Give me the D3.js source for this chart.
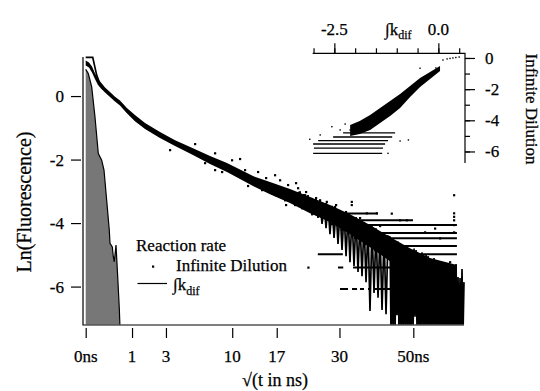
<!DOCTYPE html>
<html>
<head>
<meta charset="utf-8">
<script src="https://cdn.jsdelivr.net/npm/d3@7"></script>
<style>
  body { margin: 0; background: #fff; }
  svg { display: block; }
  svg text { font-family: "Liberation Serif", "Times New Roman", serif; fill: #000; stroke: #000; stroke-width: 0.25px; }
</style>
</head>
<body>
<div id="chart"></div>
<script>
// ---------- data (t in ns, ln of fluorescence) ----------
const xTicks = [0, 1, 3, 10, 17, 30, 50];
const xTickText = ["0ns", "1", "3", "10", "17", "30", "50ns"];
const yTicks = [0, -2, -4, -6];

// Infinite Dilution: dense core of the points (upper / lower edge)
const dilT  = [0, 0.005, 0.0185, 0.040, 0.0705, 0.109, 0.174, 0.275, 0.40, 0.548, 0.79, 1.13, 1.64, 2.57, 3.72, 5.36, 7.20, 9.30, 13.04, 15.82, 19.44, 23.44, 27.80, 32.54, 37.65, 43.14, 49.00, 55.23, 64.2];
const dilHi = [1.12, 1.06, 0.93, 0.72, 0.54, 0.43, 0.27, 0.13, -0.02, -0.14, -0.38, -0.60, -0.85, -1.13, -1.39, -1.64, -1.89, -2.11, -2.52, -2.71, -2.93, -3.18, -3.43, -3.72, -4.06, -4.44, -4.79, -5.10, -5.32];
const dilLo = [0.96, 0.90, 0.74, 0.54, 0.35, 0.24, 0.11, -0.03, -0.17, -0.30, -0.54, -0.79, -1.04, -1.32, -1.57, -1.86, -2.14, -2.39, -2.83, -3.09, -3.37, -3.69, -3.97, -4.35, -4.76, -5.20, -5.61, -6.05, -6.08];

// Infinite Dilution: single-count levels (rows of points)
const rowLevel = [-6.08, -6.08, -6.08, -6.08, -6.08, -5.40, -5.40, -4.98, -4.98, -4.72, -4.48, -4.31, -4.06, -3.91, -3.70];
const rowFrom  = [30.13, 33.04, 35.05, 37.13, 38.98, 29.66, 33.3, 25.1, 41.2, 39.5, 36.9, 34.3, 32.5, 29.4, 28.5];
const rowTo    = [32.06, 34.3, 36.09, 37.9, 66.67, 30.9, 64.2, 30.8, 64.2, 64.2, 64.2, 64.2, 64.2, 49.9, 39.8];

// Infinite Dilution: scattered points around the core
const dotT = [1.93, 3.31, 5.57, 7.79, 11.09, 14.48, 16.69, 18.69, 20.6, 22.41, 23.09, 25.57, 27.06, 28.95, 32.96, 32.96, 36.79, 39.45, 43.62, 46.02, 48.01, 53.64, 56.85, 58.48, 63.2, 63.2, 63.2, 63.2, 63.2, 63.2,
  6.63, 7.79, 8.66, 9.97, 10.81, 11.82, 12.27, 13.83, 14.48, 15.15, 16.87, 17.59, 18.51, 19.07, 20.41, 21.00, 21.80, 22.61, 23.86, 24.71, 26.01, 26.90, 28.26, 29.19, 30.60, 31.56, 33.79, 35.05, 36.34, 38.99, 40.35, 44.57, 47.49, 50.51, 52.07, 60.14, 61.83];
const dotY = [-1.01, -1.70, -1.51, -2.33, -1.98, -2.96, -2.49, -3.43, -2.74, -3.12, -5.40, -3.28, -3.33, -3.49, -3.33, -3.43, -3.69, -3.69, -3.70, -3.91, -3.91, -4.29, -4.17, -4.48, -3.12, -3.69, -3.80, -3.91, -4.06, -4.29,
  -2.11, -1.80, -2.39, -2.02, -2.49, -2.33, -2.83, -2.39, -2.93, -2.58, -3.12, -2.65, -3.28, -2.80, -3.43, -2.90, -3.53, -3.02, -3.72, -3.21, -3.91, -3.40, -4.03, -3.43, -4.22, -3.65, -4.47, -3.84, -4.66, -4.85, -4.09, -5.23, -5.48, -5.80, -5.01, -5.86, -5.23];

// ∫k_dif line
const kdifT = [0, 0.023, 0.056, 0.095, 0.174, 0.275, 0.548, 1.13, 2.57, 5.36, 9.30, 13.04, 15.82, 19.44,
  21.39, 21.79, 22.20, 22.61, 23.02, 23.44, 23.86, 24.28, 24.71, 25.14, 25.57, 26.02, 26.46, 26.91, 27.35, 27.80,
  28.27, 28.73, 29.20, 29.66, 30.13, 30.61, 31.09, 31.58, 32.06, 32.54, 33.04, 33.54, 34.05, 34.55, 35.05,
  35.57, 36.09, 36.61, 37.13, 37.65, 38.19, 38.73, 39.27, 39.81, 40.35, 40.91, 41.47, 42.02, 42.58,
  43.14, 43.43, 43.72, 44.00, 44.29, 44.58, 44.87, 45.15, 45.44, 45.73, 46.02, 46.32, 46.62, 46.91, 47.21, 47.51,
  47.81, 48.10, 48.40, 48.70, 49.00, 49.30, 49.61, 49.92, 50.23, 50.53, 50.84, 51.15, 51.46, 51.76, 52.07, 52.38,
  52.70, 53.02, 53.34, 53.65, 53.97, 54.28, 54.60, 54.91, 55.23, 55.55, 55.88, 56.20, 56.53, 56.85, 57.18, 57.50,
  57.83, 58.15, 58.48, 58.81, 59.15, 59.48, 59.82, 60.15, 60.49, 60.82, 61.16, 61.49, 61.83, 62.17, 62.52, 62.86,
  63.21, 63.55, 63.89, 64.24, 64.58, 64.93, 65.27, 65.62, 65.97, 66.32, 66.67];
const kdifY = [1.22, 1.22, 0.66, 0.38, 0.19, 0.03, -0.22, -0.69, -1.23, -1.75, -2.25, -2.68, -2.90, -3.15,
  -3.02, -3.37, -3.09, -3.50, -3.12, -3.59, -3.21, -3.72, -3.24, -3.84, -3.31, -4.03, -3.37, -4.16, -3.43, -4.35,
  -3.46, -4.47, -3.56, -4.66, -3.59, -4.85, -3.65, -5.04, -3.69, -5.23, -3.78, -5.35, -3.81, -5.54, -3.91,
  -5.67, -3.97, -5.86, -4.03, -6.77, -4.10, -6.20, -4.16, -6.35, -4.28, -6.74, -4.35, -6.87, -4.41,
  -4.44, -7.5, -4.54, -7.5, -4.60, -7.5, -4.66, -6.9, -4.58, -7.5, -4.72, -7.5, -4.85, -7.5, -4.91, -7.5,
  -4.70, -7.5, -4.79, -7.5, -4.95, -7.5, -4.98, -7.5, -4.80, -6.95, -4.85, -7.5, -5.05, -7.5, -5.10, -7.5,
  -4.92, -7.5, -5.23, -7.5, -5.00, -7.5, -5.04, -7.5, -5.20, -7.5, -5.35, -7.5, -5.10, -7.5, -5.23, -7.5,
  -5.40, -7.5, -5.48, -7.5, -5.25, -7.5, -5.35, -7.5, -5.55, -7.5, -5.61, -7.5, -5.30, -7.5, -5.48, -7.5,
  -5.60, -7.5, -5.29, -7.5, -5.70, -7.5, -5.73, -7.5, -5.45, -7.5, -5.86];

// instrument response (grey filled)
const irfT = [0, 0.0031, 0.0168, 0.040, 0.074, 0.119, 0.156, 0.205, 0.259, 0.275, 0.33, 0.355, 0.381, 0.428, 0.477, 0.526, 0.548];
const irfY = [0.84, 0.71, 0.29, -0.65, -1.81, -2.02, -2.33, -3.28, -4.22, -4.64, -4.75, -5.06, -5.22, -4.69, -5.69, -6.68, -7.3];

// inset: Infinite Dilution vs ∫k_dif
const insXTicks = [-3, -2.5, -2, -1.5, -1, -0.5, 0, 0.5];
const insXMajor = [-2.5, 0];
const insXText = ["-2.5", "0.0"];
const insYTicks = [0, -1, -2, -3, -4, -5, -6];
const insYMajor = [0, -2, -4, -6];
const insX  = [0.04, -0.20, -0.44, -0.68, -0.92, -1.16, -1.40, -1.64, -1.89, -2.12];
const insHi = [-0.51, -0.90, -1.28, -1.80, -2.31, -2.76, -3.21, -3.66, -4.04, -4.30];
const insLo = [-0.83, -1.35, -1.86, -2.50, -3.21, -3.72, -4.17, -4.62, -4.88, -5.01];
const insDotX = [0.11, 0.21, 0.28, 0.35, 0.42, 0.50, -0.06, -0.44, -3.09, -2.84, -2.56, -2.36, -2.12, -1.88, -1.84, -1.72, -1.69, -0.92, -0.72, -1.21, -2.24, -2.00];
const insDotY = [-0.13, -0.06, -0.03, 0, 0.03, 0.06, -0.64, -0.66, -5.22, -4.94, -4.41, -4.62, -4.62, -4.62, -4.41, -4.19, -4.41, -5.33, -5.26, -6.12, -4.24, -4.49];
const insRowLevel = [-4.81, -5.07, -5.30, -5.52, -5.78, -6.12];
const insRowFrom  = [-2.29, -2.53, -2.89, -3.01, -2.99, -3.01];
const insRowTo    = [-1.04, -1.11, -1.21, -1.28, -1.33, -1.35];

// ---------- chart ----------
const width = 540, height = 391;
const pLeft = 83, pRight = 464, pTop = 57, pBottom = 325;

const svg = d3.select("#chart").append("svg")
  .attr("width", width)
  .attr("height", height);

function addText(parent, px, py, str, size, anchor = "start", rot = 0) {
  return parent.append("text")
    .attr("transform", `translate(${px},${py})` + (rot ? ` rotate(${rot})` : ""))
    .attr("font-size", size)
    .attr("text-anchor", anchor)
    .text(str);
}
function addKdif(parent, px, py, size, sub, dy) {
  const t = parent.append("text")
    .attr("x", px).attr("y", py)
    .attr("font-size", size);
  t.append("tspan").text("∫k");
  t.append("tspan").attr("dy", dy).attr("font-size", sub).text("dif");
  return t;
}
function tickStyle(a) {
  a.select(".domain").remove();
  a.selectAll("text").remove();
  a.selectAll("line").attr("stroke", "#000").attr("stroke-width", 1.2);
}

const x = d3.scalePow().exponent(0.5).domain([0, 66.67]).range([85.7, pRight]);
const y = d3.scaleLinear().domain([-7.21, 1.23]).range([pBottom, pTop]);

svg.append("clipPath").attr("id", "plotClip")
  .append("rect")
  .attr("x", pLeft + 0.5).attr("y", pTop - 1)
  .attr("width", pRight - pLeft + 2).attr("height", pBottom - pTop + 0.5);

const plot = svg.append("g").attr("clip-path", "url(#plotClip)");

// grey response
const irf = irfT.map((t, i) => [t, irfY[i]]);
plot.append("path")
  .datum(irf)
  .attr("fill", "#777")
  .attr("d", d3.area().x(d => x(d[0])).y0(y(-7.21)).y1(d => y(d[1])));
plot.append("path")
  .datum(irf)
  .attr("fill", "none")
  .attr("stroke", "#000")
  .attr("stroke-width", 1.2)
  .attr("d", d3.line().x(d => x(d[0])).y(d => y(d[1])));

// ∫k_dif line
plot.append("path")
  .datum(kdifT.map((t, i) => [t, kdifY[i]]))
  .attr("fill", "none")
  .attr("stroke", "#000")
  .attr("stroke-width", 1.7)
  .attr("d", d3.line().x(d => x(d[0])).y(d => y(d[1])));

// Infinite Dilution points
plot.append("path")
  .datum(dilT.map((t, i) => [t, dilHi[i], dilLo[i]]))
  .attr("fill", "#000")
  .attr("d", d3.area().x(d => x(d[0])).y0(d => y(d[2])).y1(d => y(d[1])));

plot.append("g")
  .selectAll("line")
  .data(rowLevel.map((v, i) => [rowFrom[i], rowTo[i], v]))
  .join("line")
  .attr("x1", d => x(d[0])).attr("x2", d => x(d[1]))
  .attr("y1", d => y(d[2])).attr("y2", d => y(d[2]))
  .attr("stroke", "#000")
  .attr("stroke-width", 2);

plot.append("g")
  .selectAll("rect")
  .data(dotT.map((t, i) => [t, dotY[i]]))
  .join("rect")
  .attr("x", d => x(d[0]) - 1).attr("y", d => y(d[1]) - 1)
  .attr("width", 2.2).attr("height", 2.2)
  .attr("fill", "#000");

// frame + axes
svg.append("path")
  .attr("d", `M${pLeft},${pTop}V${pBottom}H${pRight}`)
  .attr("fill", "none")
  .attr("stroke", "#000")
  .attr("stroke-width", 1.2);

svg.append("g")
  .attr("transform", `translate(0,${pBottom + 3})`)
  .call(d3.axisBottom(x).tickValues(xTicks).tickSize(10))
  .call(tickStyle);
svg.append("g")
  .attr("transform", `translate(${pLeft - 2},0)`)
  .call(d3.axisLeft(y).tickValues(yTicks).tickSize(10))
  .call(tickStyle);

xTicks.forEach((v, i) => addText(svg, x(v), 362, xTickText[i], 17, "middle"));
yTicks.forEach(v => addText(svg, 64, y(v) + 6, String(v), 17, "end"));

addText(svg, 275, 386, "√(t in ns)", 18, "middle");
addText(svg, 31, 202, "Ln(Fluorescence)", 20, "middle", -90);

// legend
addText(svg, 136, 251, "Reaction rate", 17);
svg.append("rect").attr("x", 152).attr("y", 265.5).attr("width", 2.2).attr("height", 2.2).attr("fill", "#000");
addText(svg, 176, 271, "Infinite Dilution", 17);
svg.append("line")
  .attr("x1", 137.5).attr("x2", 167).attr("y1", 283.5).attr("y2", 283.5)
  .attr("stroke", "#000").attr("stroke-width", 1.2);
addKdif(svg, 173, 290, 17, 12, 5);

// ---------- inset ----------
const ix = d3.scaleLinear().domain([-3.02, 0.64]).range([312.7, 465]);
const iy = d3.scaleLinear().domain([-6.74, 0.3]).range([163, 53.3]);
const inset = svg.append("g");

inset.append("path")
  .datum(insX.map((v, i) => [v, insHi[i], insLo[i]]))
  .attr("fill", "#000")
  .attr("d", d3.area().x(d => ix(d[0])).y0(d => iy(d[2])).y1(d => iy(d[1])));

inset.append("g")
  .selectAll("line")
  .data(insRowLevel.map((v, i) => [insRowFrom[i], insRowTo[i], v]))
  .join("line")
  .attr("x1", d => ix(d[0])).attr("x2", d => ix(d[1]))
  .attr("y1", d => iy(d[2])).attr("y2", d => iy(d[2]))
  .attr("stroke", "#000")
  .attr("stroke-width", 1.3);

inset.append("g")
  .selectAll("rect")
  .data(insDotX.map((v, i) => [v, insDotY[i]]))
  .join("rect")
  .attr("x", d => ix(d[0]) - 0.7).attr("y", d => iy(d[1]) - 0.7)
  .attr("width", 1.4).attr("height", 1.4)
  .attr("fill", "#000");

inset.append("path")
  .attr("d", `M312.7,53.3H465V163`)
  .attr("fill", "none")
  .attr("stroke", "#000")
  .attr("stroke-width", 1.2);

inset.append("g").attr("transform", "translate(0,53.3)")
  .call(d3.axisTop(ix).tickValues(insXTicks).tickSize(5)).call(tickStyle);
inset.append("g").attr("transform", "translate(0,53.3)")
  .call(d3.axisTop(ix).tickValues(insXMajor).tickSize(10)).call(tickStyle);
inset.append("g").attr("transform", "translate(465,0)")
  .call(d3.axisRight(iy).tickValues(insYTicks).tickSize(5)).call(tickStyle);
inset.append("g").attr("transform", "translate(465,0)")
  .call(d3.axisRight(iy).tickValues(insYMajor).tickSize(10)).call(tickStyle);

insXMajor.forEach((v, i) => addText(inset, ix(v), 35, insXText[i], 17, "middle"));
insYMajor.forEach(v => addText(inset, 485, iy(v) + 6, String(v), 17));
addKdif(inset, 385, 35, 17, 12, 4);

addText(inset, 526, 109, "Infinite Dilution", 17, "middle", 90);
</script>
</body>
</html>
